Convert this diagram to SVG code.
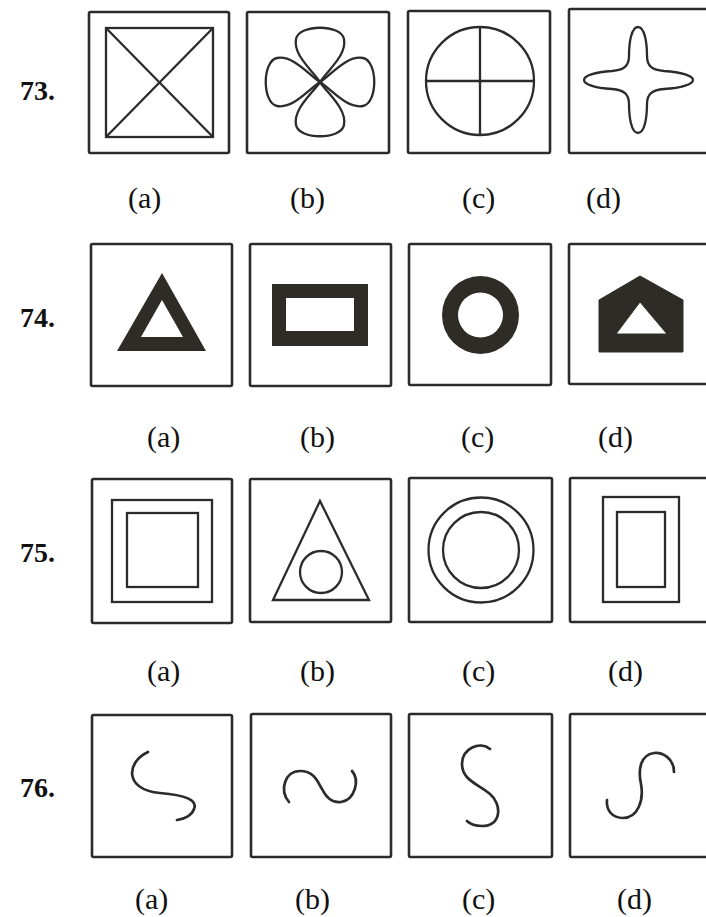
<svg xmlns="http://www.w3.org/2000/svg" width="706" height="917" viewBox="0 0 706 917">
<defs>
<style>
.box{fill:none;stroke:#2b2b2b;stroke-width:2.6}
.ln{fill:none;stroke:#2b2b2b;stroke-width:2.3}
.crv{fill:none;stroke:#2b2b2b;stroke-width:2.7;stroke-linecap:round}
.blk{fill:#2f2c27;fill-rule:evenodd}
.num{font-family:"Liberation Serif",serif;font-weight:bold;font-size:28px;fill:#111}
.lbl{font-family:"Liberation Serif",serif;font-size:30px;fill:#111}
</style>
<path id="lobe" d="M0,0 C-8,-12 -27,-27 -24,-43 C-21,-58 21,-58 24,-43 C27,-27 8,-12 0,0 Z"/>
</defs>
<rect width="706" height="917" fill="#fff"/>

<g id="q73">
<text class="num" x="20" y="100">73.</text>
<g id="q73a">
<rect class="box" x="89" y="12" width="140" height="141" rx="1.5"/>
<rect class="ln" x="106" y="28" width="107" height="109"/>
<line class="ln" x1="106" y1="28" x2="213" y2="137"/>
<line class="ln" x1="213" y1="28" x2="106" y2="137"/>
</g>
<g id="q73b">
<rect class="box" x="247" y="12" width="142" height="141" rx="1.5"/>
<g class="ln" transform="translate(320,82)">
<use href="#lobe"/>
<use href="#lobe" transform="rotate(90)"/>
<use href="#lobe" transform="rotate(180)"/>
<use href="#lobe" transform="rotate(270)"/>
</g>
</g>
<g id="q73c">
<rect class="box" x="408" y="11" width="142" height="142" rx="1.5"/>
<circle class="ln" cx="480" cy="81" r="54"/>
<line class="ln" x1="480" y1="27" x2="480" y2="135"/>
<line class="ln" x1="426" y1="81" x2="534" y2="81"/>
</g>
<g id="q73d">
<rect class="box" x="569" y="9" width="150" height="144" rx="1.5"/>
<path class="ln" d="M638,27 C645,27 647,44 647,56 C647,66 652,70 664,71 C682,72 693,76 693,80 C693,84 682,88 664,89 C652,90 647,94 647,104 C647,116 645,133 638,133 C631,133 629,116 629,104 C629,94 624,90 612,89 C594,88 584,84 584,80 C584,76 594,72 612,71 C624,70 629,66 629,56 C629,44 631,27 638,27 Z"/>
</g>
<text class="lbl" x="128" y="208">(a)</text>
<text class="lbl" x="290" y="208">(b)</text>
<text class="lbl" x="462" y="208">(c)</text>
<text class="lbl" x="586" y="208">(d)</text>
</g>

<g id="q74">
<text class="num" x="20" y="327">74.</text>
<g id="q74a">
<rect class="box" x="91" y="244" width="141" height="142" rx="1.5"/>
<path class="blk" d="M162,273 L206,351 L117,351 Z M162,300 L141,337 L183,337 Z"/>
</g>
<g id="q74b">
<rect class="box" x="250" y="244" width="141" height="142" rx="1.5"/>
<path class="blk" d="M272,284 H368 V346 H272 Z M286,298 V331 H354 V298 Z"/>
</g>
<g id="q74c">
<rect class="box" x="409" y="244" width="142" height="141" rx="1.5"/>
<path class="blk" d="M442,315 A38.5,39 0 1,0 519,315 A38.5,39 0 1,0 442,315 Z M458,315 A22.5,22.5 0 1,1 503,315 A22.5,22.5 0 1,1 458,315 Z"/>
</g>
<g id="q74d">
<rect class="box" x="569" y="244" width="150" height="140" rx="1.5"/>
<path class="blk" d="M640,276 L683,300 L683,352 L599,352 L599,300 Z M640,302 L616,334 L667,334 Z" stroke="#2f2c27" stroke-width="1" stroke-linejoin="round"/>
</g>
<text class="lbl" x="147" y="447">(a)</text>
<text class="lbl" x="300" y="447">(b)</text>
<text class="lbl" x="461" y="447">(c)</text>
<text class="lbl" x="598" y="447">(d)</text>
</g>

<g id="q75">
<text class="num" x="20" y="562">75.</text>
<g id="q75a">
<rect class="box" x="92" y="479" width="140" height="144" rx="1.5"/>
<rect class="ln" x="112" y="500" width="100" height="102"/>
<rect class="ln" x="127" y="513" width="71" height="74"/>
</g>
<g id="q75b">
<rect class="box" x="250" y="479" width="141" height="143" rx="1.5"/>
<path class="ln" d="M320,501 L369,600 L273,600 Z"/>
<circle class="ln" cx="321" cy="572" r="21"/>
</g>
<g id="q75c">
<rect class="box" x="409" y="478" width="143" height="144" rx="1.5"/>
<circle class="ln" cx="481" cy="550" r="52.5"/>
<circle class="ln" cx="481" cy="550" r="38"/>
</g>
<g id="q75d">
<rect class="box" x="570" y="478" width="150" height="144" rx="1.5"/>
<rect class="ln" x="603" y="497" width="76" height="105"/>
<rect class="ln" x="617" y="512" width="48" height="75"/>
</g>
<text class="lbl" x="147" y="681">(a)</text>
<text class="lbl" x="300" y="681">(b)</text>
<text class="lbl" x="462" y="681">(c)</text>
<text class="lbl" x="608" y="681">(d)</text>
</g>

<g id="q76">
<text class="num" x="20" y="797">76.</text>
<g id="q76a">
<rect class="box" x="92" y="715" width="140" height="142" rx="1.5"/>
<path class="crv" d="M148,752 C126,762 124,790 160,793 C185,795 198,800 194,809 C192,815 185,819 177,820"/>
</g>
<g id="q76b">
<rect class="box" x="251" y="714" width="140" height="143" rx="1.5"/>
<path class="crv" d="M289,802 C279,790 285,771 300,771 C315,771 318,783 322,789 C327,799 334,803 341,802 C355,800 360,780 352,771"/>
</g>
<g id="q76c">
<rect class="box" x="409" y="714" width="143" height="143" rx="1.5"/>
<path class="crv" d="M490,749 C480,741 462,748 462,764 C462,780 478,784 490,794 C502,804 502,826 482,826 C476,826 470,824 467,821"/>
</g>
<g id="q76d">
<rect class="box" x="570" y="714" width="150" height="143" rx="1.5"/>
<path class="crv" d="M674,772 C674,758 662,752 654,753 C640,755 638,770 641,784 C644,800 638,818 623,818 C612,818 606,810 607,800"/>
</g>
<text class="lbl" x="135" y="909">(a)</text>
<text class="lbl" x="295" y="909">(b)</text>
<text class="lbl" x="462" y="909">(c)</text>
<text class="lbl" x="617" y="909">(d)</text>
</g>
</svg>
